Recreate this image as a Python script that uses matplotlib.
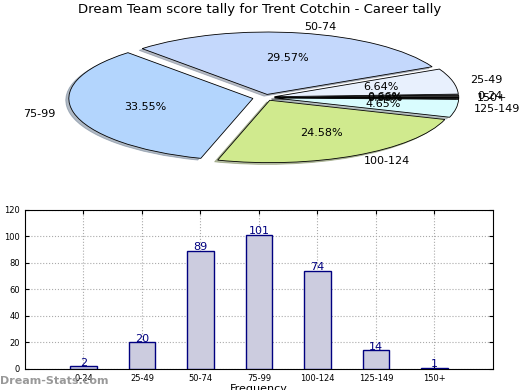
import matplotlib
matplotlib.use("Agg")
import matplotlib.pyplot as plt

# score buckets and game counts
labels = ["0-24", "25-49", "50-74", "75-99", "100-124", "125-149", "150+"]
counts = [2, 20, 89, 101, 74, 14, 1]
pie_colors = ["#333333", "#e8f0fd", "#c4d8fc", "#b3d5fd", "#d0ea8e", "#d9fcfe", "#333333"]
explode = [0.05, 0.05, 0.05, 0.07, 0.05, 0.05, 0.05]

fig = plt.figure(figsize=(5.2, 3.9), dpi=100)

# pie on top (squashed, not equal aspect)
ax1 = fig.add_axes([0.068, 0.55, 0.885, 0.40])
ax1.pie(counts, labels=labels, colors=pie_colors, explode=explode,
        autopct="%1.2f%%", startangle=0,
        shadow={"ox": -0.012, "oy": -0.02, "shade": 0.45},
        wedgeprops={"edgecolor": "black", "linewidth": 0.6},
        textprops={"fontsize": 8})
ax1.set_aspect("auto")
ax1.set_xlim(-1.25, 1.25)
ax1.set_ylim(-1.25, 1.25)
fig.text(0.5, 1 - 10 / 390, "Dream Team score tally for Trent Cotchin - Career tally",
         fontsize=9.5, ha="center", va="center")

# bar chart below
ax2 = fig.add_axes([0.048, 0.054, 0.9, 0.408])
xpos = list(range(1, len(labels) + 1))
ax2.bar(xpos, counts, width=0.45, color="#ccccdf",
        edgecolor="navy", linewidth=1, zorder=3)
for x, c in zip(xpos, counts):
    ax2.text(x, c - 1, str(c), ha="center", va="bottom", color="navy",
             fontsize=8, zorder=4)
ax2.set_xlim(0, 8)
ax2.set_ylim(0, 120)
ax2.set_xticks(xpos)
ax2.set_xticklabels(labels)
ax2.set_yticks(range(0, 121, 20))
ax2.tick_params(labelsize=6, direction="in", right=True, top=True, length=3)
ax2.grid(True, linestyle=":", color="#aaaaaa", linewidth=0.8, zorder=0)
ax2.set_xlabel("Frequency", fontsize=8, labelpad=1)
ax2.set_ylabel("Stat Intervals", fontsize=8)
ax2.yaxis.set_label_coords(-0.052, 0.5)

fig.text(0.0, 0.01, "Dream-Stats.com", fontsize=8, color="#999999",
         fontweight="bold", ha="left", va="bottom")

fig.savefig("out.png", dpi=100)
